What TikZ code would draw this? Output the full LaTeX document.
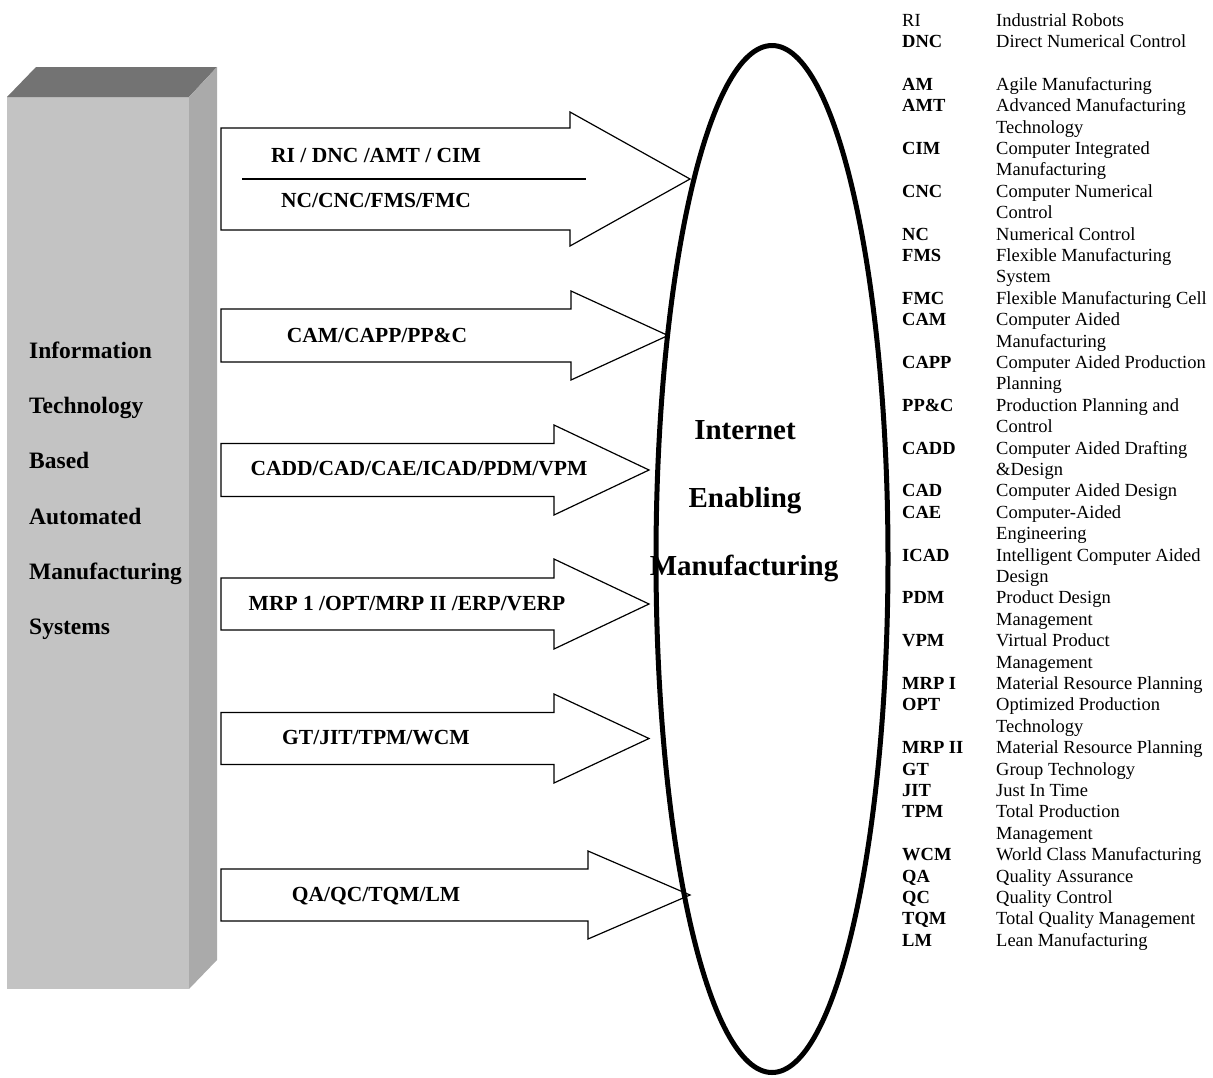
\documentclass[tikz,border=0pt]{standalone}
\usepackage{fontspec}
\setmainfont{Liberation Serif}
\usetikzlibrary{positioning, shapes.geometric}
\definecolor{boxfront}{RGB}{195,195,195}
\definecolor{boxtop}{RGB}{115,115,115}
\definecolor{boxside}{RGB}{170,170,170}
\tikzset{
  blockarrow/.style={draw=black, line width=1.2pt, fill=white, line join=miter},
  arrowtext/.style={font=\bfseries\fontsize{21.5}{24}\selectfont, anchor=base, inner sep=0},
  sidetext/.style={font=\bfseries\fontsize{23.5}{26}\selectfont, anchor=base west, inner sep=0},
  hubtext/.style={font=\bfseries\fontsize{29}{32}\selectfont, anchor=base, inner sep=0},
  hub/.style={draw, ellipse, line width=5pt, minimum width=232, minimum height=1027, inner sep=0},
  legendbox/.style={font=\fontsize{18.5}{21.4}\selectfont, anchor=north west, inner sep=0}
}

\begin{document}
\begin{tikzpicture}[x=1pt, y=-1pt]
\useasboundingbox (0,0) rectangle (1213,1077);

% the grey block
\fill[boxfront] (7,97) rectangle (189,989);
\fill[boxtop] (7,97) -- (36,67) -- (217,67) -- (189,97) -- cycle;
\fill[boxside] (189,97) -- (217,67) -- (217,960) -- (189,989) -- cycle;

\node [sidetext] (side1) at (29,358) {Information};
\node [sidetext] (side2) at (29,413) {Technology};
\node [sidetext] (side3) at (29,468) {Based};
\node [sidetext] (side4) at (29,524) {Automated};
\node [sidetext] (side5) at (29,579) {Manufacturing};
\node [sidetext] (side6) at (29,634) {Systems};


% the six big arrows: mid y / half body / half head / head base / tip
\foreach \cy/\hb/\hh/\bx/\tx in {179/51/67/570/690, 335.5/26.5/44.5/571/668,
    470/26.5/45/554/649, 604/26/45/554/649, 738.5/26/44.5/554/649, 895/26/44/588/690}
  \draw[blockarrow] (221,\cy-\hb) -- (\bx,\cy-\hb) -- (\bx,\cy-\hh) -- (\tx,\cy)
    -- (\bx,\cy+\hh) -- (\bx,\cy+\hb) -- (221,\cy+\hb) -- cycle;

\node [arrowtext] (t1a) at (376,162) {RI / DNC /AMT / CIM};
\node [arrowtext] (t1b) at (376,207) {NC/CNC/FMS/FMC};
\coordinate (rulel) at (242,179);
\coordinate (ruler) at (586,179);
\draw[line width=1.2pt] (rulel) -- (ruler);

\node [arrowtext] (t2) at (377,342) {CAM/CAPP/PP\&C};
\node [arrowtext] (t3) at (419,475) {CADD/CAD/CAE/ICAD/PDM/VPM};
\node [arrowtext] (t4) at (407,610) {MRP 1 /OPT/MRP II /ERP/VERP};
\node [arrowtext] (t5) at (376,744) {GT/JIT/TPM/WCM};
\node [arrowtext] (t6) at (376,901) {QA/QC/TQM/LM};


% the ellipse
\node [hub] (hub) at (772,559) {};
\node [hubtext] (hub1) at (745,439) {Internet};
\node [hubtext] (hub2) at (745,507) {Enabling};
\node [hubtext] (hub3) at (744,575) {Manufacturing};


% abbreviations
\node [legendbox] (legend) at (902,11) {%
\begin{tabular}{@{}p{94pt}@{}l@{}}
RI & Industrial Robots\\
\textbf{DNC} & Direct Numerical Control\\
 & \\
\textbf{AM} & Agile Manufacturing\\
\textbf{AMT} & Advanced Manufacturing\\
 & Technology\\
\textbf{CIM} & Computer Integrated\\
 & Manufacturing\\
\textbf{CNC} & Computer Numerical\\
 & Control\\
\textbf{NC} & Numerical Control\\
\textbf{FMS} & Flexible Manufacturing\\
 & System\\
\textbf{FMC} & Flexible Manufacturing Cell\\
\textbf{CAM} & Computer Aided\\
 & Manufacturing\\
\textbf{CAPP} & Computer Aided Production\\
 & Planning\\
\textbf{PP\&C} & Production Planning and\\
 & Control\\
\textbf{CADD} & Computer Aided Drafting\\
 & \&Design\\
\textbf{CAD} & Computer Aided Design\\
\textbf{CAE} & Computer-Aided\\
 & Engineering\\
\textbf{ICAD} & Intelligent Computer Aided\\
 & Design\\
\textbf{PDM} & Product Design\\
 & Management\\
\textbf{VPM} & Virtual Product\\
 & Management\\
\textbf{MRP I} & Material Resource Planning\\
\textbf{OPT} & Optimized Production\\
 & Technology\\
\textbf{MRP II} & Material Resource Planning\\
\textbf{GT} & Group Technology\\
\textbf{JIT} & Just In Time\\
\textbf{TPM} & Total Production\\
 & Management\\
\textbf{WCM} & World Class Manufacturing\\
\textbf{QA} & Quality Assurance\\
\textbf{QC} & Quality Control\\
\textbf{TQM} & Total Quality Management\\
\textbf{LM} & Lean Manufacturing
\end{tabular}};

\end{tikzpicture}
\end{document}
